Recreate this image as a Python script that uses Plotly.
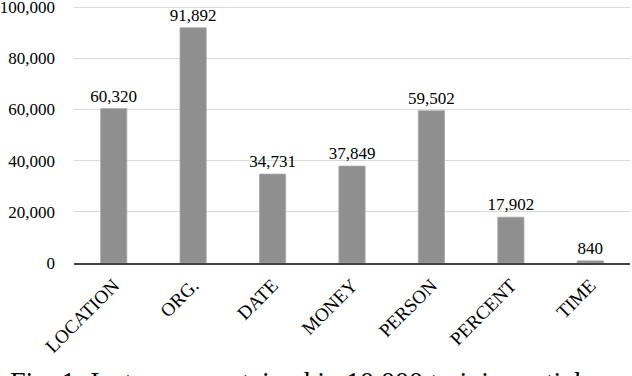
import plotly.graph_objects as go

categories = ["LOCATION", "ORG.", "DATE", "MONEY", "PERSON", "PERCENT", "TIME"]
counts = [60320, 91892, 34731, 37849, 59502, 17902, 840]
y_ticks = [0, 20000, 40000, 60000, 80000, 100000]
y_tick_labels = ["0", "20,000", "40,000", "60,000", "80,000", "100,000"]
caption = "Fig. 1: Instances contained in 10,000 training articles"

FONT = "Liberation Serif, Times New Roman, serif"

fig = go.Figure(
    go.Bar(
        x=categories,
        y=counts,
        marker=dict(color="#8f8f8f", line=dict(color="#a8a8a8", width=0.8)),
        text=[f"{v:,}" for v in counts],
        textposition="outside",
        constraintext="none",
        textfont=dict(family=FONT, size=17, color="#000000"),
        cliponaxis=False,
        hoverinfo="skip",
    )
)

fig.update_layout(
    width=632,
    height=376,
    margin=dict(l=74, r=2, t=6, b=113, autoexpand=False),
    paper_bgcolor="white",
    plot_bgcolor="white",
    bargap=0.67,
    showlegend=False,
    font=dict(family=FONT, color="#000000"),
)

fig.update_xaxes(
    tickangle=-45,
    tickfont=dict(family=FONT, size=19, color="#000000"),
    showline=True,
    linecolor="#404040",
    linewidth=1.5,
    showgrid=False,
    ticks="",
    ticklabelstandoff=2,
    automargin=False,
)

fig.update_yaxes(
    range=[0, 100400],
    tickvals=y_ticks,
    ticktext=y_tick_labels,
    tickfont=dict(family=FONT, size=17, color="#000000"),
    showgrid=True,
    gridcolor="#d9d9d9",
    gridwidth=1,
    zeroline=False,
    showline=False,
    ticks="",
    ticklabelstandoff=18,
    ticklabeloverflow="allow",
    automargin=False,
)

fig.add_annotation(
    text=caption,
    xref="paper",
    yref="paper",
    x=-66 / 556,
    y=-0.392,
    xanchor="left",
    yanchor="top",
    showarrow=False,
    font=dict(family=FONT, size=28, color="#000000"),
)

fig.write_html(
    "out.html",
    config={"displayModeBar": False},
    post_script="document.body.style.margin='0';",
)
